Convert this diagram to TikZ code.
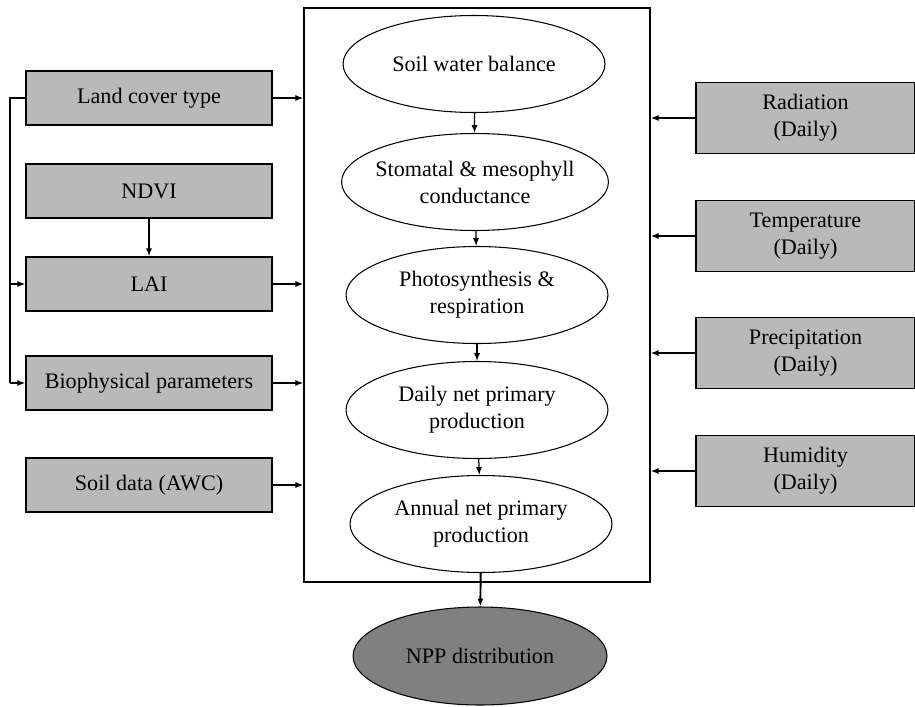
\documentclass[tikz,border=0pt]{standalone}
\usepackage{fontspec}
\setmainfont{Liberation Serif}
\usetikzlibrary{arrows.meta,shapes.geometric}

\definecolor{boxgray}{RGB}{185,185,185}
\definecolor{nppgray}{RGB}{128,128,128}

\tikzstyle{inbox}=[rectangle, draw=black, fill=boxgray, line width=0.9pt, minimum width=4.92cm, minimum height=1.08cm, align=center]
\tikzstyle{metbox}=[rectangle, draw=black, fill=boxgray, line width=0.9pt, minimum width=4.38cm, minimum height=1.42cm, align=center]
\tikzstyle{procell}=[ellipse, draw=black, line width=0.6pt, minimum width=5.24cm, minimum height=1.94cm, align=center, inner sep=0pt]
\tikzstyle{flow}=[line width=0.7pt]

\begin{document}
\begin{tikzpicture}[x=0.02cm, y=-0.02cm, >={Latex[length=4.5pt,width=3.5pt]}, font=\fontsize{12.6}{15.4}\selectfont]
    \useasboundingbox (0,0) rectangle (915,706);

    \node[draw=black, line width=0.9pt, minimum width=6.92cm, minimum height=11.48cm] (frame) at (477,295) {};

    % model steps
    \node[procell] (swb) at (474,64) {Soil water balance};

    \node[procell, inner xsep=-3pt] (stom) at (475,182) {Stomatal \& mesophyll\\conductance}
    edge[<-, flow] (swb);

    \node[procell] (photo) at (477,295) {Photosynthesis \&\\respiration}
    edge[<-, flow] (stom);

    \node[procell] (dnpp) at (477,410) {Daily net primary\\production}
    edge[<-, flow] (photo);

    \node[procell] (anpp) at (481,524) {Annual net primary\\production}
    edge[<-, flow] (dnpp);

    \node[procell, fill=nppgray, minimum width=5.08cm, minimum height=1.96cm] (nppd) at (480,656) {NPP distribution}
    edge[<-, flow, line width=1.1pt] (anpp);

    % inputs on the left
    \node[inbox] (lct) at (149,98) {Land cover type}
    edge[->, flow] (frame.west |- lct.east);

    \node[inbox] (ndvi) at (149,191) {NDVI};

    \node[inbox] (lai) at (149,284) {LAI}
    edge[<-, flow] (ndvi)
    edge[->, flow] (frame.west |- lai.east);

    \node[inbox] (bio) at (149,383) {Biophysical parameters}
    edge[->, flow] (frame.west |- bio.east);

    \node[inbox] (soil) at (149,485) {Soil data (AWC)}
    edge[->, flow] (frame.west |- soil.east);

    \coordinate (bustop) at (10,98);
    \coordinate (buslai) at (10,284);
    \coordinate (busbio) at (10,383);
    \draw[flow] (lct.west) -- (bustop) -- (busbio);
    \draw[->, flow] (buslai) -- (lai.west);
    \draw[->, flow] (busbio) -- (bio.west);

    % daily weather on the right
    \node[metbox] (rad) at (805.5,118) {Radiation\\(Daily)}
    edge[->, flow] (frame.east |- rad.west);

    \node[metbox] (temp) at (805.5,236) {Temperature\\(Daily)}
    edge[->, flow] (frame.east |- temp.west);

    \node[metbox] (prec) at (805.5,353) {Precipitation\\(Daily)}
    edge[->, flow] (frame.east |- prec.west);

    \node[metbox] (hum) at (805.5,471) {Humidity\\(Daily)}
    edge[->, flow] (frame.east |- hum.west);
\end{tikzpicture}
\end{document}
